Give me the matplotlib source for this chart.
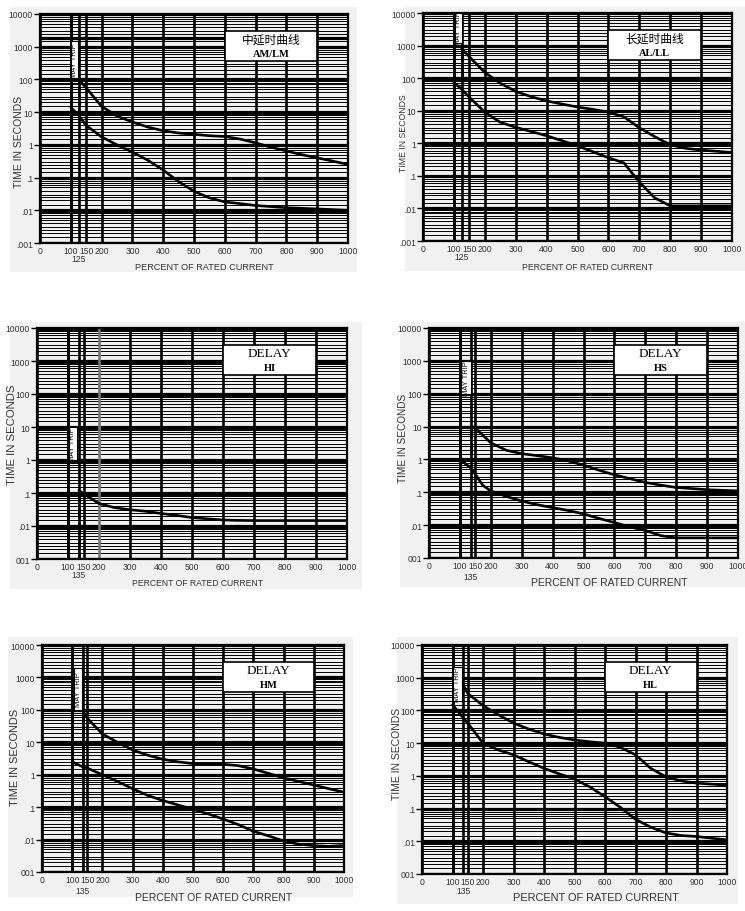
import numpy as np
import matplotlib.pyplot as plt
from matplotlib.patches import Rectangle

plt.rcParams['font.family'] = ['Liberation Sans', 'Noto Sans CJK SC', 'DejaVu Sans']

W, H = 745, 912
BG = '#f1f1f1'

# y grid / tick labels
decades = [0.001, 0.01, 0.1, 1, 10, 100, 1000, 10000]
minor_mult = [1.5, 2, 2.5, 3, 4, 5, 6, 7, 8, 9]
ylab_top = ['.001', '.01', '.1', '1', '10', '100', '1000', '10000']
ylab_low = ['001', '.01', '.1', '1', '10', '100', '1000', '10000']
xticks = [0, 100, 150, 200, 300, 400, 500, 600, 700, 800, 900, 1000]

# 中延时曲线 AM/LM
am_up_x = [125, 150, 200, 250, 300, 350, 400, 450, 500, 550, 600, 650, 700, 750, 800, 850, 900, 950, 1000]
am_up_y = [100, 55, 15, 7.6, 5, 3.5, 2.7, 2.3, 2.1, 1.9, 1.8, 1.5, 1.15, 0.85, 0.65, 0.5, 0.4, 0.32, 0.25]
am_lo_x = [100, 125, 150, 200, 250, 300, 350, 400, 450, 500, 550, 600, 650, 700, 800, 900, 1000]
am_lo_y = [14, 8, 3.9, 1.75, 1.0, 0.6, 0.34, 0.17, 0.075, 0.038, 0.024, 0.018, 0.016, 0.014, 0.012, 0.011, 0.010]

# 长延时曲线 AL/LL
al_up_x = [125, 150, 200, 250, 300, 350, 400, 450, 500, 550, 600, 650, 700, 750, 800, 850, 900, 1000]
al_up_y = [800, 450, 150, 70, 39, 27, 20, 16, 13, 11, 9, 6.5, 3, 1.6, 0.9, 0.7, 0.62, 0.52]
al_lo_x = [100, 125, 150, 200, 250, 300, 350, 400, 450, 500, 550, 600, 650, 700, 750, 800, 900, 1000]
al_lo_y = [73, 46, 26, 9, 4.4, 3.1, 2.3, 1.7, 1.2, 0.83, 0.55, 0.36, 0.25, 0.065, 0.021, 0.012, 0.012, 0.012]

# DELAY HI
hi_x = [135, 150, 200, 250, 300, 350, 400, 450, 500, 550, 600, 650, 700, 800, 900, 1000]
hi_y = [0.12, 0.095, 0.048, 0.036, 0.031, 0.028, 0.024, 0.021, 0.018, 0.0165, 0.0152, 0.0148, 0.0146, 0.0146, 0.0146, 0.0146]

# DELAY HS
hs_up_x = [140, 150, 200, 250, 300, 350, 400, 450, 500, 550, 600, 650, 700, 750, 800, 850, 900, 1000]
hs_up_y = [10, 9, 3.2, 1.9, 1.5, 1.3, 1.12, 0.9, 0.67, 0.47, 0.34, 0.26, 0.2, 0.165, 0.14, 0.13, 0.12, 0.11]
hs_lo_x = [100, 135, 150, 175, 200, 250, 300, 350, 400, 450, 500, 550, 600, 650, 700, 750, 800, 900, 1000]
hs_lo_y = [1.0, 0.55, 0.35, 0.16, 0.11, 0.075, 0.054, 0.042, 0.034, 0.028, 0.022, 0.016, 0.012, 0.0088, 0.0069, 0.0048, 0.0041, 0.0041, 0.0041]

# DELAY HM
hm_up_x = [135, 150, 200, 250, 300, 350, 400, 450, 500, 550, 600, 650, 700, 750, 800, 850, 900, 950, 1000]
hm_up_y = [95, 55, 18, 10, 5.8, 4, 3, 2.5, 2.2, 2.1, 2.1, 1.9, 1.5, 1.1, 0.8, 0.62, 0.48, 0.37, 0.29]
hm_lo_x = [100, 135, 150, 200, 250, 300, 350, 400, 450, 500, 550, 600, 650, 700, 750, 800, 850, 900, 950, 1000]
hm_lo_y = [2.5, 1.75, 1.6, 1.0, 0.62, 0.37, 0.23, 0.16, 0.117, 0.085, 0.062, 0.043, 0.029, 0.018, 0.013, 0.009, 0.0072, 0.0065, 0.0062, 0.0066]

# DELAY HL
hl_up_x = [135, 150, 200, 250, 300, 350, 400, 450, 500, 550, 600, 650, 700, 750, 800, 850, 900, 1000]
hl_up_y = [600, 330, 140, 74, 41, 27, 19, 15, 12.5, 11, 10, 7.5, 4.4, 1.7, 0.93, 0.7, 0.6, 0.52]
hl_lo_x = [100, 135, 150, 200, 250, 300, 350, 400, 450, 500, 550, 600, 650, 700, 750, 800, 850, 900, 1000]
hl_lo_y = [150, 60, 41, 10, 6.2, 4.4, 2.7, 1.7, 1.15, 0.8, 0.46, 0.23, 0.11, 0.047, 0.027, 0.018, 0.015, 0.014, 0.011]

titles = ['中延时曲线', '长延时曲线', 'DELAY', 'DELAY', 'DELAY', 'DELAY']
subs = ['AM/LM', 'AL/LL', 'HI', 'HS', 'HM', 'HL']
trip_pct = ['125', '125', '135', '135', '135', '135']

# layout in pixels: axes (left, right, top, bottom), background (left, right, top, bottom)
# off = (sub label below, xlabel below, xlabel shift right), ylab = (left offset, shift down, size), xfs = xlabel size
panels = [
    dict(ax=(40, 348, 15, 244), bg=(10, 357, 8, 273), curves=[(am_up_x, am_up_y), (am_lo_x, am_lo_y)],
         trip=125, may=(101, 124, 110, 1500), dash=(125, 95, 9, ':'), extra=[1800], lab=ylab_top,
         off=(16, 24, 10), ylab=(21, 12, 7.5), xfs=6.6),
    dict(ax=(423, 732, 14, 242), bg=(405, 745, 8, 272), curves=[(al_up_x, al_up_y), (al_lo_x, al_lo_y)],
         trip=125, may=(102, 127, 1200, 10000), dash=(125, 700, 90, '--'), extra=[], lab=ylab_top,
         off=(16, 25, 10), ylab=(20, 5, 6.3), xfs=6.2),
    dict(ax=(37, 347, 329, 560), bg=(10, 362, 323, 590), curves=[(hi_x, hi_y)],
         trip=135, may=(102, 129, 1, 10), dash=(135, 0.1, 0.001, '--'), extra=[], lab=ylab_low,
         off=(16, 24, 5), ylab=(25, -10, 8.2), xfs=6.2),
    dict(ax=(429, 738, 329, 559), bg=(400, 745, 323, 588), curves=[(hs_up_x, hs_up_y), (hs_lo_x, hs_lo_y)],
         trip=135, may=(105, 136, 100, 1000), dash=(135, 9, 1, '--'), extra=[], lab=ylab_low,
         off=(18, 24, 26), ylab=(26, -6, 7.2), xfs=7.4),
    dict(ax=(42, 344, 646, 873), bg=(8, 353, 638, 898), curves=[(hm_up_x, hm_up_y), (hm_lo_x, hm_lo_y)],
         trip=135, may=(106, 133, 100, 2000), dash=(135, 90, 2, '--'), extra=[], lab=ylab_low,
         off=(19, 25, 21), ylab=(27, -2, 7.9), xfs=7.5),
    dict(ax=(422, 727, 646, 875), bg=(397, 738, 638, 905), curves=[(hl_up_x, hl_up_y), (hl_lo_x, hl_lo_y)],
         trip=135, may=(102, 131, 190, 2200), dash=None, extra=[], lab=ylab_low,
         off=(17, 23, 21), ylab=(25, -7, 7.5), xfs=7.9),
]

fig = plt.figure(figsize=(W / 100, H / 100), dpi=100)
fig.patch.set_facecolor('white')

for i, p in enumerate(panels):
    bl, br, bt, bb = p['bg']
    fig.patches.append(Rectangle((bl / W, 1 - bb / H), (br - bl) / W, (bb - bt) / H,
                                 transform=fig.transFigure, facecolor=BG, edgecolor='none', zorder=-10))
    l, r, t, b = p['ax']
    ax = fig.add_axes([l / W, 1 - b / H, (r - l) / W, (b - t) / H])
    ax.set_facecolor(BG)
    ax.set_yscale('log')
    ax.set_xlim(0, 1000)
    ax.set_ylim(0.001, 10000)

    # grid
    for d in decades[:-1]:
        for m in minor_mult:
            ax.axhline(d * m, color='k', lw=0.7, zorder=1)
    for d in decades:
        ax.axhline(d, color='k', lw=2.3, zorder=1)
    for y in p['extra']:
        ax.axhline(y, color='k', lw=2.3, zorder=1)
    for x in range(0, 1001, 100):
        ax.axvline(x, color='#777777' if (i == 2 and x == 200) else 'k', lw=1.9, zorder=2)
    for x in [100, p['trip'], 150]:
        ax.axvline(x, color='k', lw=1.9, zorder=2)

    # may trip box
    x0, x1, y0, y1 = p['may']
    ax.add_patch(Rectangle((x0, y0), x1 - x0, y1 - y0, facecolor='white', edgecolor='k', lw=0.8, zorder=4))
    ax.text((x0 + x1) / 2, np.sqrt(y0 * y1), 'MAY TRIP', rotation=90, ha='center', va='center',
            fontsize=5.4, zorder=5, family=['Liberation Sans Narrow', 'Liberation Sans'])

    if p['dash'] is not None:
        dx, dt, db, ls = p['dash']
        ax.plot([dx, dx], [dt, db], color='k', lw=2, ls=ls, zorder=6)

    for cx, cy in p['curves']:
        ax.plot(cx, cy, color='k', lw=1.9, zorder=6, solid_capstyle='round')

    # legend box
    ax.add_patch(Rectangle((0.60, 0.795), 0.30, 0.13, transform=ax.transAxes,
                           facecolor='white', edgecolor='k', lw=1.2, zorder=7))
    tfam = ['Noto Sans CJK SC'] if i < 2 else ['Liberation Serif']
    ax.text(0.75, 0.89, titles[i], transform=ax.transAxes, ha='center', va='center',
            fontsize=8.5 if i < 2 else 9.5, family=tfam, zorder=8)
    ax.text(0.75, 0.828, subs[i], transform=ax.transAxes, ha='center', va='center',
            fontsize=7.5, family=['Liberation Serif'], weight='bold', zorder=8)

    # ticks
    ax.set_yticks(decades)
    ax.set_yticklabels(p['lab'])
    ax.yaxis.set_minor_locator(plt.NullLocator())
    ax.set_xticks(xticks)
    ax.set_xticklabels([str(v) for v in xticks])
    ax.tick_params(axis='y', length=4, width=1, pad=1, labelsize=6.2, labelcolor='#333333')
    ax.tick_params(axis='x', length=0, pad=2, labelsize=6.2, labelcolor='#333333')
    for s in ax.spines.values():
        s.set_linewidth(1.6)

    sub_off, lab_off, lab_dx = p['off']
    ax.annotate(trip_pct[i], xy=(int(trip_pct[i]), 0), xycoords=('data', 'axes fraction'),
                xytext=(0, -sub_off * 0.72), textcoords='offset points', ha='center', va='center',
                fontsize=6.2, color='#333333')
    ax.annotate('PERCENT OF RATED CURRENT', xy=(0.5, 0), xycoords='axes fraction',
                xytext=(lab_dx * 0.72, -lab_off * 0.72), textcoords='offset points',
                ha='center', va='center', fontsize=p['xfs'], color='#333333')
    ylx, yly, yfs = p['ylab']
    ax.annotate('TIME IN SECONDS', xy=(0, 0.5), xycoords='axes fraction',
                xytext=(-ylx * 0.72, -yly * 0.72), textcoords='offset points', ha='center', va='center',
                rotation=90, fontsize=yfs, color='#333333')

fig.savefig('out.png', dpi=100)
